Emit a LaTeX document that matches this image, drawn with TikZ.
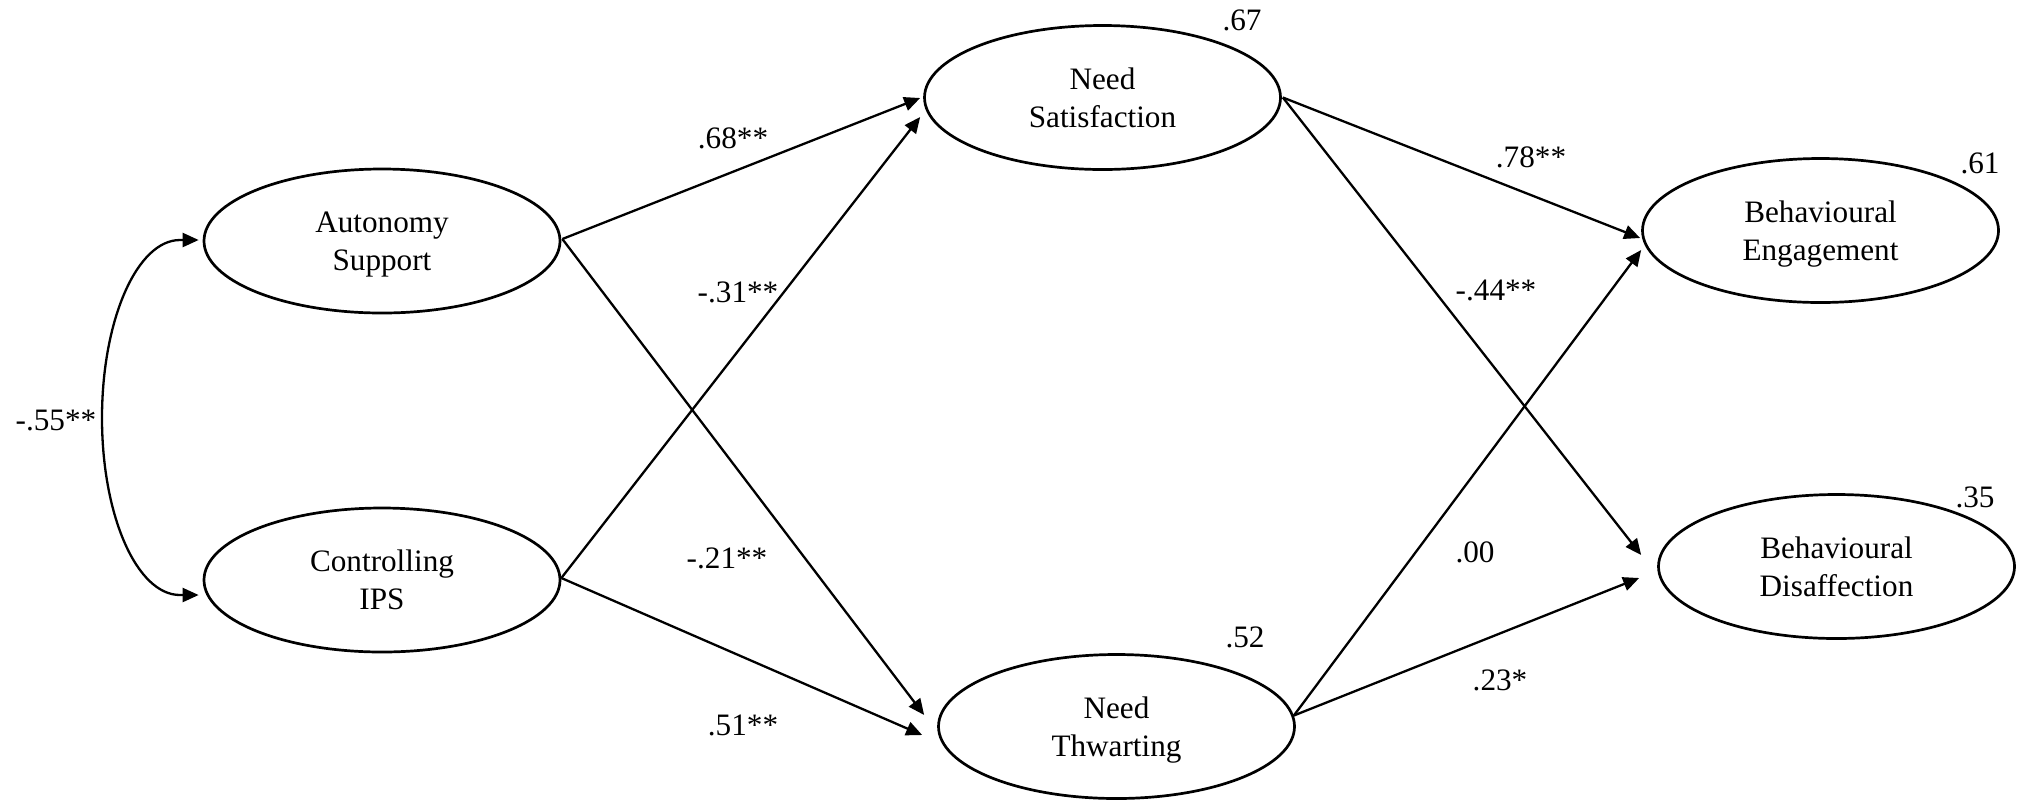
\documentclass[tikz,border=0pt]{standalone}
\usepackage{fontspec}
\setmainfont{Liberation Serif}
\usetikzlibrary{arrows.meta,shapes.geometric}
\begin{document}
\begin{tikzpicture}[x=0.5pt,y=-0.5pt,
  latent/.style={ellipse,draw,line width=1.35pt,minimum width=178pt,minimum height=72pt,inner sep=0pt,align=center,text depth=0pt,font=\fontsize{15.6pt}{19pt}\selectfont},
  lbl/.style={inner sep=0pt,font=\fontsize{15.6pt}{19pt}\selectfont},
  patharrow/.style={line width=1.15pt,-{Triangle[length=8pt,width=7pt]}},
  covar/.style={line width=1.15pt,{Triangle[length=8pt,width=7pt]}-{Triangle[length=8pt,width=7pt]}},
]
\useasboundingbox (0,0) rectangle (2029,800);

\node[latent] (as) at (382,241) {Autonomy\\Support};
\node[latent] (ci) at (382,580) {Controlling\\IPS};
\node[latent] (ns) at (1102.5,97.5) {Need\\Satisfaction};
\node[latent] (nt) at (1116.5,726.5) {Need\\Thwarting};
\node[latent] (be) at (1820.5,230.5) {Behavioural\\Engagement};
\node[latent] (bd) at (1836.5,566.5) {Behavioural\\Disaffection};

\coordinate (as-o) at ([shift={(1,-2)}]as.east);
\coordinate (ci-o) at ([shift={(0,-2)}]ci.east);
\coordinate (ns-o) at ([shift={(1,0)}]ns.east);
\coordinate (nt-o) at ([shift={(-2,-11)}]nt.east);
\coordinate (ns-i1) at ([shift={(-3,0.5)}]ns.west);
\coordinate (ns-i2) at ([shift={(-3,19.5)}]ns.west);
\coordinate (nt-i1) at ([shift={(-13,-11.5)}]nt.west);
\coordinate (nt-i2) at ([shift={(-15,8.5)}]nt.west);
\coordinate (be-i1) at ([shift={(-1,7.5)}]be.west);
\coordinate (be-i2) at ([shift={(0,19.5)}]be.west);
\coordinate (bd-i1) at ([shift={(-16,-11.5)}]bd.west);
\coordinate (bd-i2) at ([shift={(-18,11.5)}]bd.west);
\coordinate (as-c) at ([shift={(-4,-1)}]as.west);
\coordinate (ci-c) at ([shift={(-4,15)}]ci.west);

\draw[patharrow] (as-o) -- (ns-i1);
\draw[patharrow] (as-o) -- (nt-i1);
\draw[patharrow] (ci-o) -- (ns-i2);
\draw[patharrow] (ci-o) -- (nt-i2);
\draw[patharrow] (ns-o) -- (be-i1);
\draw[patharrow] (ns-o) -- (bd-i1);
\draw[patharrow] (nt-o) -- (be-i2);
\draw[patharrow] (nt-o) -- (bd-i2);

\draw[covar] (as-c) -- (180,240) .. controls (137,240) and (102,320) .. (102,418)
  .. controls (102,516) and (137,595) .. (180,595) -- (ci-c);

\node[lbl] (l55) at (56,420) {-.55**};
\node[lbl] (l68) at (733,138) {.68**};
\node[lbl] (l31) at (738,292) {-.31**};
\node[lbl] (l21) at (727,558) {-.21**};
\node[lbl] (l51) at (743,725) {.51**};
\node[lbl] (l78) at (1531,157) {.78**};
\node[lbl] (l44) at (1496,290) {-.44**};
\node[lbl] (l00) at (1475,552) {.00};
\node[lbl] (l23) at (1500,680) {.23*};
\node[lbl] (r67) at (1242,20) {.67};
\node[lbl] (r52) at (1245,637) {.52};
\node[lbl] (r61) at (1980,163) {.61};
\node[lbl] (r35) at (1975,497) {.35};
\end{tikzpicture}
\end{document}
